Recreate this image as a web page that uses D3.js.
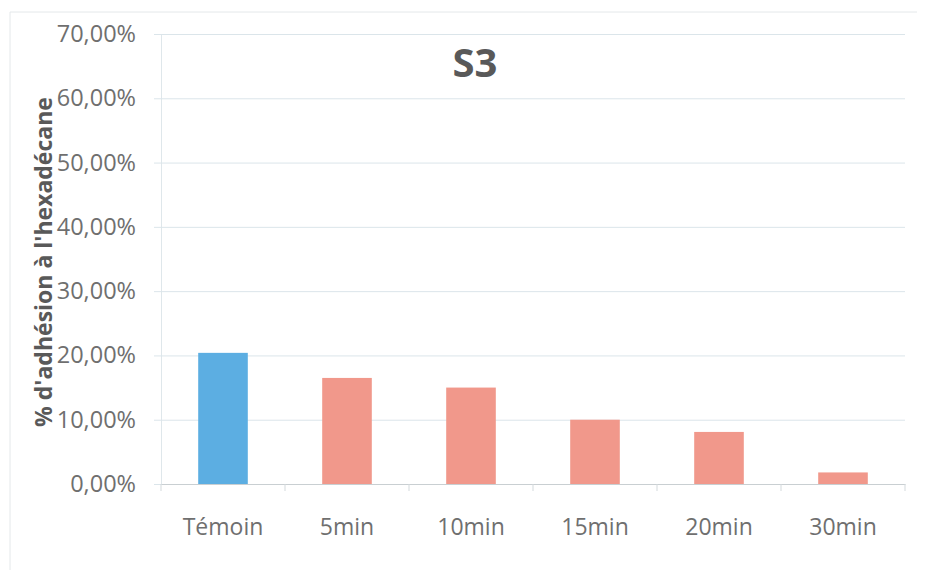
<!DOCTYPE html>
<html>
<head>
<meta charset="utf-8">
<script src="https://cdn.jsdelivr.net/npm/d3@7"></script>
<style>
  html, body { margin: 0; padding: 0; background: #ffffff; }
  svg { display: block; }
  text { font-family: "Open Sans", "Noto Sans", "DejaVu Sans", sans-serif; }
</style>
</head>
<body>
<svg id="chart" width="927" height="576"></svg>
<script>
// Hexadecane adhesion (%) for strain S3 by treatment time
const categories = ["Témoin", "5min", "10min", "15min", "20min", "30min"];
const adhesion = [20.4, 16.5, 15.0, 10.0, 8.1, 1.8];
const barColors = ["#5caee2", "#f1988b", "#f1988b", "#f1988b", "#f1988b", "#f1988b"];
const yTicks = [0, 10, 20, 30, 40, 50, 60, 70];
const chartTitle = "S3";
const yTitle = "% d'adhésion à l'hexadécane";

const svg = d3.select("#chart");
const plot = { left: 161, right: 905, top: 34, bottom: 484 };

// faint outer chart frame
svg.append("path")
  .attr("d", `M10,570 V12 H917`)
  .attr("fill", "none")
  .attr("stroke", "#e4e8ea")
  .attr("stroke-width", 1);

const x = d3.scaleBand()
  .domain(categories)
  .range([plot.left, plot.right])
  .paddingInner(0)
  .paddingOuter(0);

const y = d3.scaleLinear()
  .domain([0, 70])
  .range([plot.bottom, plot.top]);

const fmt = v => d3.format(".2f")(v).replace(".", ",") + "%";

// horizontal gridlines with the value axis
const yAxis = d3.axisLeft(y)
  .tickValues(yTicks)
  .tickFormat(fmt)
  .tickSize(-(plot.right - plot.left))
  .tickSizeOuter(0)
  .tickPadding(25);

const gy = svg.append("g")
  .attr("transform", `translate(${plot.left},0)`)
  .call(yAxis);
gy.select(".domain").attr("stroke", "#dfe7eb");
gy.selectAll(".tick line")
  .attr("x1", -7)
  .attr("stroke", "#dbe5ea")
  .attr("stroke-width", 1);
gy.selectAll(".tick text")
  .attr("fill", "#6f6f6f")
  .style("font-size", "23.5px");

// bars
const barW = x.bandwidth() * 0.4;
svg.append("g").selectAll("rect")
  .data(adhesion)
  .join("rect")
  .attr("x", (d, i) => x(categories[i]) + (x.bandwidth() - barW) / 2)
  .attr("y", d => y(d))
  .attr("width", barW)
  .attr("height", d => y(0) - y(d))
  .attr("fill", (d, i) => barColors[i]);

// category axis
const xAxis = d3.axisBottom(x)
  .tickSize(0)
  .tickPadding(35);
const gx = svg.append("g")
  .attr("transform", `translate(0,${plot.bottom})`)
  .call(xAxis);
gx.select(".domain").attr("stroke", "#c9cfd2");
gx.selectAll(".tick text")
  .attr("fill", "#6f6f6f")
  .style("font-size", "23px");

// tick marks at category boundaries
const bounds = categories.map(c => x(c)).concat([plot.right]);
svg.append("g").selectAll("line")
  .data(bounds)
  .join("line")
  .attr("x1", d => d).attr("x2", d => d)
  .attr("y1", plot.bottom).attr("y2", plot.bottom + 7)
  .attr("stroke", "#d3d9dc");

// title
svg.append("text")
  .attr("x", 475)
  .attr("y", 77)
  .attr("text-anchor", "middle")
  .attr("fill", "#595959")
  .style("font-size", "40px")
  .style("font-weight", "bold")
  .text(chartTitle);

// value axis title
svg.append("text")
  .attr("transform", `translate(52,262) rotate(-90)`)
  .attr("text-anchor", "middle")
  .attr("fill", "#595959")
  .style("font-size", "23px")
  .style("font-weight", "bold")
  .text(yTitle);
</script>
</body>
</html>
